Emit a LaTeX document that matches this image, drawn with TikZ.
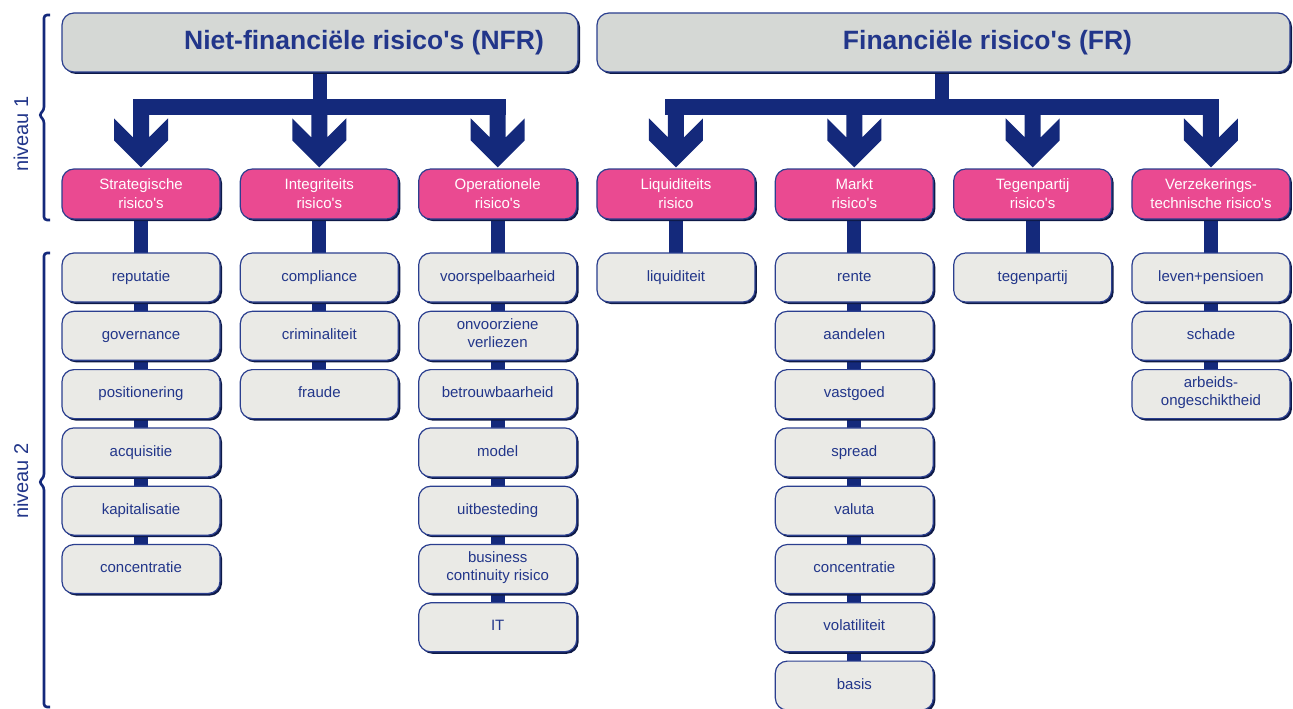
\documentclass[tikz,border=0pt]{standalone}
\usepackage{fontspec}
\setmainfont{Liberation Sans}
\usetikzlibrary{calc,shadows,backgrounds}

\definecolor{navy}{HTML}{14297B}
\definecolor{navytext}{HTML}{22368A}
\definecolor{edge}{HTML}{2B3F8F}
\definecolor{shade}{HTML}{0E1A48}
\definecolor{hdrfill}{HTML}{D5D8D5}
\definecolor{pinkfill}{HTML}{EA4A91}
\definecolor{itemfill}{HTML}{EAEAE6}

\newcommand\q{\textquotesingle}

\tikzset{
  box/.style={rectangle, rounded corners=12pt, draw=edge, line width=1.2pt,
    minimum width=158pt, minimum height=49pt, inner sep=0pt, align=center,
    font=\fontsize{15}{18}\selectfont,
    drop shadow={shadow xshift=2pt, shadow yshift=-2pt, fill=shade, opacity=1}},
  hdr/.style={box, fill=hdrfill, minimum height=59pt},
  hdrtext/.style={text=navytext, font=\bfseries\fontsize{26.5}{30}\selectfont},
  cat/.style={box, fill=pinkfill, text=white, minimum height=50pt,
    font=\fontsize{15}{19}\selectfont},
  item/.style={box, fill=itemfill, text=navytext, execute at begin node=\strut},
  conn/.style={draw=navy, line width=14pt},
  brace/.style={draw=navy, line width=2.6pt, rounded corners=3pt},
  lvl/.style={rotate=90, text=navytext, font=\fontsize{20}{24}\selectfont},
}

% chevron arrow head sitting on top of a category box
\newcommand\chevron[1]{%
  \fill[navy, shift={(#1.north)}] (-8,-60) -- (-8,-31) -- (-27,-50) -- (-27,-28)
    -- (0,-1) -- (27,-28) -- (27,-50) -- (8,-31) -- (8,-60) -- cycle;}

\begin{document}
\begin{tikzpicture}[x=1pt, y=-1pt]
\useasboundingbox (0,0) rectangle (1293,709);
\clip (0,0) rectangle (1293,709);

% level labels and braces
\node[lvl] (lv1) at (21,134) {niveau 1};
\node[lvl] (lv2) at (21,481) {niveau 2};
\draw[brace] (50,15) -- (44,15) -- (44,110) -- (39,115) -- (44,120) -- (44,220) -- (50,220);
\draw[brace] (50,253) -- (44,253) -- (44,477) -- (39,482) -- (44,487) -- (44,707) -- (50,707);

% headers
\node[hdr, minimum width=516pt] (nfr) at (320,42.5) {};
\node[hdrtext] (nfrt) at ($(nfr.center)+(44,0)$) {Niet-financiële risico\q s (NFR)};
\node[hdr, minimum width=693pt] (fr) at (943.5,42.5) {};
\node[hdrtext] (frt) at ($(fr.center)+(44,0)$) {Financiële risico\q s (FR)};

% risk categories
\foreach \c/\t in {1/{Strategische\\risico\q s}, 2/{Integriteits\\risico\q s},
    3/{Operationele\\risico\q s}, 4/{Liquiditeits\\risico}, 5/{Markt\\risico\q s},
    6/{Tegenpartij\\risico\q s}, 7/{Verzekerings-\\technische risico\q s}}{
  \node[cat] (p\c) at ({141+178.33*(\c-1)},194) {\t};
}

% sub risks
\foreach \c/\lst in {
    1/{reputatie,governance,positionering,acquisitie,kapitalisatie,concentratie},
    2/{compliance,criminaliteit,fraude},
    3/{voorspelbaarheid,onvoorziene\\verliezen,betrouwbaarheid,model,uitbesteding,business\\continuity risico,IT},
    4/{liquiditeit},
    5/{rente,aandelen,vastgoed,spread,valuta,concentratie,volatiliteit,basis},
    6/{tegenpartij},
    7/{leven+pensioen,schade,arbeids-\\ongeschiktheid}}{
  \foreach \t [count=\r] in \lst {
    \node[item] (c\c-\r) at ({141+178.33*(\c-1)},{277.5+58.3*(\r-1)}) {\t};
  }
}

\begin{scope}[on background layer]
  % vertical spines behind each column
  \foreach \c/\n in {1/6,2/3,3/7,4/1,5/8,6/1,7/3}{
    \draw[conn] (p\c.center) -- (c\c-\n.center);
  }
  % header stems and distribution bars
  \fill[navy] ($(nfr.south)+(-7,-1)$) rectangle ($(nfr.south)+(7,29)$);
  \fill[navy] ($(fr.south)+(-9,-1)$) rectangle ($(fr.south)+(5,29)$);
  \fill[navy] ($(p1.north)+(-8,-69)$) rectangle ($(p3.north)+(8,-53)$);
  \fill[navy] ($(p4.north)+(-11,-69)$) rectangle ($(p7.north)+(8,-53)$);
  \foreach \c in {1,2,3,5,6,7}{\chevron{p\c}}
  \begin{scope}[xshift=-4pt]\chevron{p4}\end{scope}
\end{scope}
\end{tikzpicture}
\end{document}
